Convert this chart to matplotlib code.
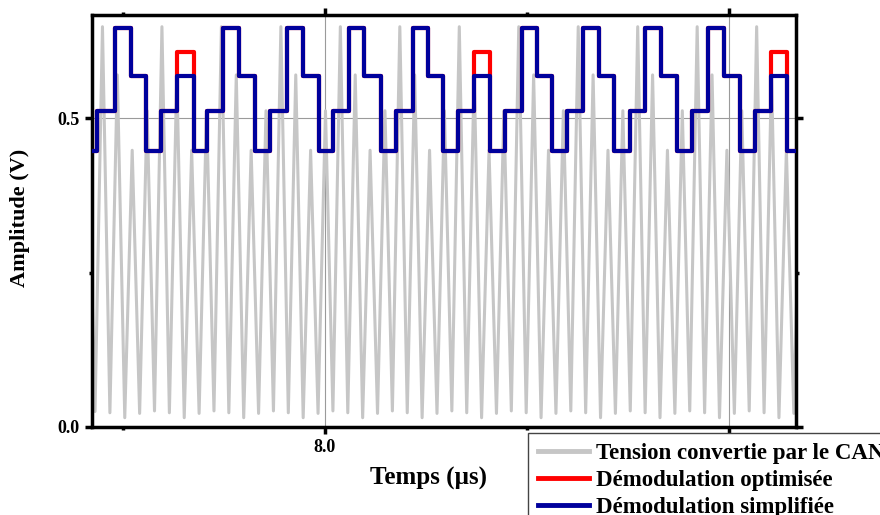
import numpy as np
import matplotlib
matplotlib.use('Agg')
import matplotlib.pyplot as plt
from matplotlib.ticker import FixedLocator, FixedFormatter, FormatStrFormatter

plt.rcParams['font.family'] = ['Liberation Serif', 'DejaVu Serif']
plt.rcParams['font.weight'] = 'bold'

# signal converti par le CAN : sommets et creux (us, V)
peak_t = [7.4125, 7.4493, 7.4861, 7.5229, 7.5597, 7.5965, 7.6333, 7.6701, 7.7069,
          7.7437, 7.7805, 7.8173, 7.8541, 7.8909, 7.9277, 7.9645, 8.0013, 8.0381,
          8.0749, 8.1117, 8.1485, 8.1853, 8.2221, 8.2589, 8.2957, 8.3325, 8.3693,
          8.4061, 8.4429, 8.4797, 8.5165, 8.5533, 8.5901, 8.6269, 8.6637, 8.7005,
          8.7373, 8.7741, 8.8109, 8.8477, 8.8845, 8.9213, 8.9581, 8.9949, 9.0317,
          9.0685, 9.1053, 9.1421, 9.1789]
peak_v = [0.512,
          0.648, 0.570, 0.448, 0.512, 0.648, 0.570, 0.448, 0.512,
          0.648, 0.570, 0.448, 0.512, 0.648, 0.570, 0.448, 0.512,
          0.648, 0.570, 0.448, 0.512, 0.648, 0.570, 0.448, 0.512,
          0.648, 0.570, 0.448, 0.512, 0.648, 0.570, 0.448, 0.512,
          0.648, 0.570, 0.448, 0.512, 0.648, 0.570, 0.448, 0.512,
          0.648, 0.570, 0.448, 0.512, 0.648, 0.570, 0.448, 0.512]
trough_t = [7.4309, 7.4677, 7.5045, 7.5413, 7.5781, 7.6149, 7.6517, 7.6885, 7.7253,
            7.7621, 7.7989, 7.8357, 7.8725, 7.9093, 7.9461, 7.9829, 8.0197, 8.0565,
            8.0933, 8.1301, 8.1669, 8.2037, 8.2405, 8.2773, 8.3141, 8.3509, 8.3877,
            8.4245, 8.4613, 8.4981, 8.5349, 8.5717, 8.6085, 8.6453, 8.6821, 8.7189,
            8.7557, 8.7925, 8.8293, 8.8661, 8.9029, 8.9397, 8.9765, 9.0133, 9.0501,
            9.0869, 9.1237, 9.1605]
trough_v = [0.025,
            0.023, 0.015, 0.022, 0.026, 0.023, 0.015, 0.022, 0.026,
            0.023, 0.015, 0.022, 0.026, 0.023, 0.015, 0.022, 0.026,
            0.023, 0.015, 0.022, 0.026, 0.023, 0.015, 0.022, 0.026,
            0.023, 0.015, 0.022, 0.026, 0.023, 0.015, 0.022, 0.026,
            0.023, 0.015, 0.022, 0.026, 0.023, 0.015, 0.022, 0.026,
            0.023, 0.015, 0.022, 0.026, 0.023, 0.015, 0.022]

# demodulations (debut de chaque palier)
step_t = [7.4233, 7.436, 7.480, 7.520, 7.557, 7.594, 7.634, 7.676, 7.708, 7.748,
          7.787, 7.827, 7.864, 7.906, 7.946, 7.985, 8.020, 8.059, 8.097, 8.139,
          8.176, 8.218, 8.255, 8.292, 8.329, 8.369, 8.408, 8.446, 8.488, 8.525,
          8.562, 8.599, 8.639, 8.678, 8.715, 8.755, 8.792, 8.832, 8.871, 8.908,
          8.948, 8.988, 9.027, 9.064, 9.104, 9.144, 9.170]
simple_v = [0.447, 0.511, 0.646, 0.569, 0.447, 0.511, 0.569, 0.447, 0.511, 0.646,
            0.569, 0.447, 0.511, 0.646, 0.569, 0.447, 0.511, 0.646, 0.569, 0.447,
            0.511, 0.646, 0.569, 0.447, 0.511, 0.569, 0.447, 0.511, 0.646, 0.569,
            0.447, 0.511, 0.646, 0.569, 0.447, 0.511, 0.646, 0.569, 0.447, 0.511,
            0.646, 0.569, 0.447, 0.511, 0.569, 0.447, 0.447]
optim_v = [0.447, 0.511, 0.646, 0.569, 0.447, 0.511, 0.607, 0.447, 0.511, 0.646,
           0.569, 0.447, 0.511, 0.646, 0.569, 0.447, 0.511, 0.646, 0.569, 0.447,
           0.511, 0.646, 0.569, 0.447, 0.511, 0.607, 0.447, 0.511, 0.646, 0.569,
           0.447, 0.511, 0.646, 0.569, 0.447, 0.511, 0.646, 0.569, 0.447, 0.511,
           0.646, 0.569, 0.447, 0.511, 0.607, 0.447, 0.447]

labels = ['Tension convertie par le CAN', 'Démodulation optimisée', 'Démodulation simplifiée']
xtick_pos = [8.0, 9.0]
xtick_labels = ['8.0', '']   # le 9.0 est cache par la legende

# on remet sommets et creux dans l'ordre du temps
sig_t = np.array(peak_t + trough_t)
sig_v = np.array(peak_v + trough_v)
order = np.argsort(sig_t)
sig_t, sig_v = sig_t[order], sig_v[order]

fig = plt.figure(figsize=(8.8, 5.15), dpi=100)
ax = fig.add_axes([0.1045, 0.1709, 0.800, 0.800])

l1, = ax.plot(sig_t, sig_v, color='#c6c6c6', lw=2.2, zorder=2)
l2, = ax.plot(step_t, optim_v, color='#ff0000', lw=3.0, drawstyle='steps-post', zorder=3)
l3, = ax.plot(step_t, simple_v, color='#00009c', lw=3.0, drawstyle='steps-post', zorder=4)

ax.set_xlim(7.4233, 9.1658)
ax.set_ylim(0, 0.667)

ax.xaxis.set_major_locator(FixedLocator(xtick_pos))
ax.xaxis.set_major_formatter(FixedFormatter(xtick_labels))
ax.xaxis.set_minor_locator(FixedLocator([7.5, 8.5]))
ax.yaxis.set_major_locator(FixedLocator([0.0, 0.5]))
ax.yaxis.set_minor_locator(FixedLocator([0.25]))
ax.yaxis.set_major_formatter(FormatStrFormatter('%.1f'))

ax.tick_params(which='both', direction='out', top=True, right=True, labelsize=13, pad=4)
ax.tick_params(which='major', length=5, width=2.5)
ax.tick_params(which='minor', length=2.5, width=2.5)
for s in ax.spines.values():
    s.set_linewidth(2.5)

ax.grid(True, which='major', color='#9a9a9a', lw=0.8, zorder=1)
ax.set_axisbelow(True)

fig.text(20 / 880, 1 - 218 / 515, 'Amplitude (V)', fontsize=16, fontweight='bold',
         rotation=90, ha='center', va='center')
fig.text(428 / 880, 1 - 478 / 515, 'Temps (µs)', fontsize=18, fontweight='bold',
         ha='center', va='center')

leg = fig.legend([l1, l2, l3], labels, loc='upper left',
                 bbox_to_anchor=(528 / 880, 1 - 433 / 515), borderaxespad=0, fontsize=16.5,
                 handlelength=2.2, handletextpad=0.3, labelspacing=0.25,
                 borderpad=0.45, fancybox=False, framealpha=1)
leg.get_frame().set_edgecolor('#444444')
leg.get_frame().set_linewidth(1.0)
for h in leg.get_lines():
    h.set_linewidth(3.5)

fig.savefig('out.png', dpi=100)
